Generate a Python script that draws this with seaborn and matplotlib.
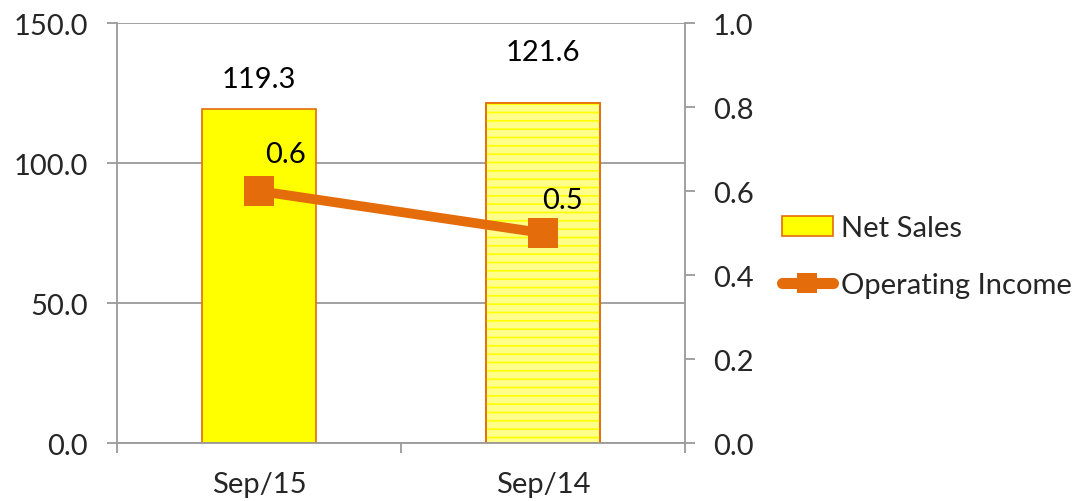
import numpy as np
import pandas as pd
import seaborn as sns
import matplotlib.pyplot as plt
from matplotlib.patches import Patch, Rectangle
from matplotlib.lines import Line2D

categories = ['Sep/15', 'Sep/14']
net_sales = [119.3, 121.6]
operating_income = [0.6, 0.5]
left_ticks = [0, 50, 100, 150]
right_ticks = [0.0, 0.2, 0.4, 0.6, 0.8, 1.0]

sns.set_theme(style='white')
plt.rcParams['font.family'] = ['Lato', 'DejaVu Sans']
plt.rcParams['hatch.linewidth'] = 1.2

ORANGE = '#E46C0A'
YELLOW = '#FFFF00'
PALE = '#FFFF8A'
GRID = '#9A9A9A'
FS = 21

df = pd.DataFrame({'period': categories, 'sales': net_sales, 'income': operating_income})

fig = plt.figure(figsize=(10.77, 5.02), dpi=100)
ax = fig.add_axes([0.1086, 0.1155, 0.5274, 0.8365])

sns.barplot(data=df, x='period', y='sales', ax=ax, width=0.4,
            color=YELLOW, edgecolor=ORANGE, linewidth=1.2, saturation=1, zorder=2)

bars = ax.patches
bars[1].set_facecolor(PALE)
# horizontal yellow hatching on the second bar
b = bars[1]
ax.add_patch(Rectangle((b.get_x(), b.get_y()), b.get_width(), b.get_height(),
                       facecolor='none', edgecolor=YELLOW, linewidth=0,
                       hatch='--', zorder=2.1))
ax.add_patch(Rectangle((b.get_x(), b.get_y()), b.get_width(), b.get_height(),
                       facecolor='none', edgecolor=ORANGE, linewidth=1.2, zorder=2.2))

# value labels above the bars
label_offsets = [12, 27]
for bar, v, off in zip(bars, net_sales, label_offsets):
    ax.annotate(f'{v:.1f}', (bar.get_x() + bar.get_width() / 2, bar.get_height()),
                xytext=(0, off), textcoords='offset points', ha='center', va='bottom',
                fontsize=FS, color='black')

ax.set_ylim(0, 150)
ax.set_yticks(left_ticks)
ax.set_yticklabels([f'{t:.1f}' for t in left_ticks])
ax.set_xlim(-0.5, len(categories) - 0.5)
ax.set_xlabel('')
ax.set_ylabel('')
ax.yaxis.grid(True, color=GRID, linewidth=1.3, zorder=0)
ax.set_axisbelow(True)

for side in ['top', 'right']:
    ax.spines[side].set_visible(False)
for side in ['left', 'bottom']:
    ax.spines[side].set_color(GRID)
    ax.spines[side].set_linewidth(1.3)

ax.tick_params(axis='y', which='major', direction='out', length=7, width=1.3,
               color=GRID, pad=14, labelsize=FS, left=True)
ax.tick_params(axis='x', which='major', length=0, pad=20, labelsize=FS)
ax.set_xticks(np.arange(len(categories) + 1) - 0.5, minor=True)
ax.tick_params(axis='x', which='minor', direction='out', length=7, width=1.3,
               color=GRID, bottom=True)

# secondary axis for operating income
ax2 = ax.twinx()
idx = np.arange(len(categories))
sns.lineplot(x=idx, y=operating_income, ax=ax2, color=ORANGE, linewidth=7,
             marker='s', markersize=22, markeredgewidth=0, zorder=3)
ax2.set_ylim(0, 1.0)
ax2.set_yticks(right_ticks)
ax2.set_yticklabels([f'{t:.1f}' for t in right_ticks])
for side in ['top', 'left', 'bottom']:
    ax2.spines[side].set_visible(False)
ax2.spines['right'].set_color(GRID)
ax2.spines['right'].set_linewidth(1.3)
ax2.tick_params(axis='y', direction='out', length=7, width=1.3, color=GRID,
                pad=13, labelsize=FS, right=True)
ax2.set_ylabel('')

point_offsets = [(19, 27), (14, 24)]
for x, v, off in zip(idx, operating_income, point_offsets):
    ax2.annotate(f'{v:.1f}', (x, v), xytext=off, textcoords='offset points',
                 ha='center', va='center', fontsize=FS, color='black')

handles = [
    Patch(facecolor=YELLOW, edgecolor=ORANGE, linewidth=1.2),
    Line2D([0], [0], color=ORANGE, linewidth=8, marker='s', markersize=14,
           markeredgewidth=0, solid_capstyle='round'),
]
fig.legend(handles, ['Net Sales', 'Operating Income'], loc='center left',
           bbox_to_anchor=(0.726, 0.487), frameon=False, fontsize=FS,
           handlelength=1.75, handletextpad=0.28, labelspacing=1.05,
           borderpad=0, borderaxespad=0)

fig.savefig('out.png', dpi=100, facecolor='white')
